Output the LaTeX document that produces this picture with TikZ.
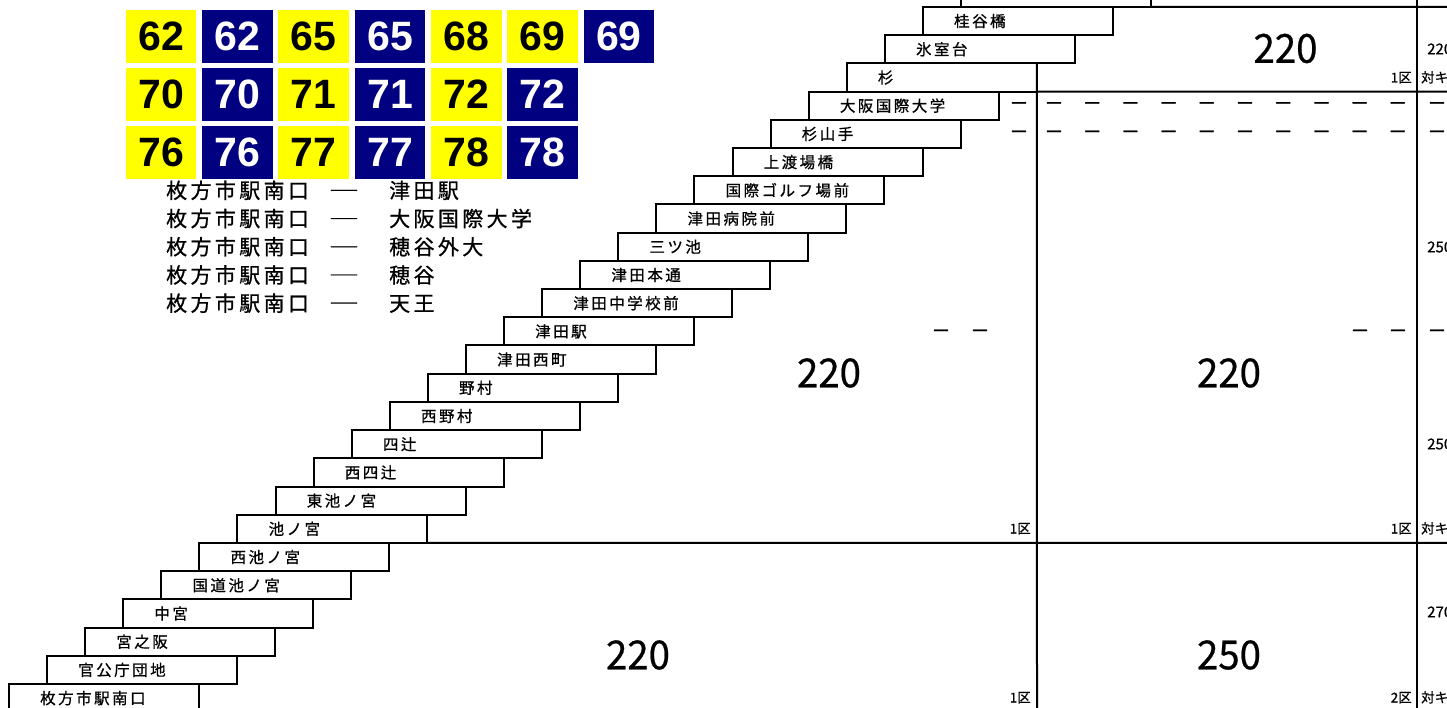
\documentclass[tikz,border=0pt]{standalone}
\usepackage{fontspec}
\usepackage{graphicx}
\setmainfont{Noto Sans CJK JP}
\newfontfamily\jp[FakeBold=0.6]{Noto Sans CJK JP}
\newfontfamily\jpls[LetterSpace=16,FakeBold=0.8]{Noto Sans CJK JP}
\newfontfamily\jpdash[FakeBold=2]{Noto Sans CJK JP}
\newfontfamily\rn{Liberation Sans}
\definecolor{rtyel}{RGB}{255,255,0}
\definecolor{rtnavy}{RGB}{0,0,128}
\begin{document}
\begin{tikzpicture}[x=1pt,y=-1pt,
  stnbox/.style={draw, line width=2pt, minimum width=190pt, minimum height=28.21pt, inner sep=0pt, outer sep=0pt, anchor=north west},
  stnlbl/.style={anchor=base west, inner sep=0pt, font=\jpls\fontsize{15.5}{15.5}\selectfont},
  rbox/.style={minimum width=70.5pt, minimum height=53pt, inner sep=0pt, outer sep=0pt, font=\rn\bfseries\fontsize{41}{41}\selectfont},
  ryel/.style={rbox, fill=rtyel, text=black},
  rnavy/.style={rbox, fill=rtnavy, text=white},
  gridln/.style={line width=2pt},
  bignum/.style={font=\jp\fontsize{40}{40}\selectfont, inner sep=0pt},
  smlbl/.style={font=\jp\fontsize{13.5}{13.5}\selectfont, inner sep=0pt},
  colnum/.style={font=\jp\fontsize{15}{15}\selectfont, inner sep=0pt, anchor=west},
  dashc/.style={font=\jpdash\fontsize{19}{19}\selectfont, inner sep=0pt, anchor=base},
  lst/.style={font=\jpls\fontsize{21}{21}\selectfont, inner sep=0pt, anchor=base west},
  lstdash/.style={font=\jp\fontsize{21}{21}\selectfont, inner sep=0pt, anchor=base}
]
\clip (0,0) rectangle (1447,708);
\fill[white] (0,0) rectangle (1447,708);

% route number boxes
\foreach \t/\s [count=\k from 0] in {62/ryel,62/rnavy,65/ryel,65/rnavy,68/ryel,69/ryel,69/rnavy}
  \node[\s] (ra\k) at ({161.2+76.27*\k},36.2) {\t};
\foreach \t/\s [count=\k from 0] in {70/ryel,70/rnavy,71/ryel,71/rnavy,72/ryel,72/rnavy}
  \node[\s] (rb\k) at ({161.2+76.27*\k},94.5) {\t};
\foreach \t/\s [count=\k from 0] in {76/ryel,76/rnavy,77/ryel,77/rnavy,78/ryel,78/rnavy}
  \node[\s] (rc\k) at ({161.2+76.27*\k},152.4) {\t};

% route list
\foreach \d [count=\k from 0] in {津田駅,大阪国際大学,穂谷外大,穂谷,天王} {
  \node[lst] (la\k) at (166,{198.3+28.21*\k}) {枚方市駅南口};
  \node[lstdash] (ld\k) at (344,{198.3+28.21*\k}) {\scalebox{1.45}[1]{―}};
  \node[lst] (lb\k) at (389,{198.3+28.21*\k}) {\d};
}

% station staircase
\foreach \n [count=\i from 0] in {枚方市駅南口,官公庁団地,宮之阪,中宮,国道池ノ宮,西池ノ宮,池ノ宮,東池ノ宮,西四辻,四辻,西野村,野村,津田西町,津田駅,津田中学校前,津田本通,三ツ池,津田病院前,国際ゴルフ場前,上渡場橋,杉山手,大阪国際大学,杉,氷室台,桂谷橋,{}} {
  \node[stnbox] (s\i) at ({9+38.08*\i},{684-28.21*\i}) {};
  \node[stnlbl] (t\i) at ({9+38.08*\i+31},{704-28.21*\i}) {\n};
}

% grid lines
\coordinate (v1b) at (1037,708);
\coordinate (h0e) at (1447,6.96);
\coordinate (h1e) at (1447,91.59);
\coordinate (h2e) at (1447,542.95);
\coordinate (v2t) at (1417,0);
\coordinate (v2b) at (1417,708);
\draw[gridln] (s22.north east) -- (v1b);
\draw[gridln] (s25.south east) -- (h0e);
\draw[gridln] (s22.south east) -- (h1e);
\draw[gridln] (s6.south east) -- (h2e);
\draw[gridln] (v2t) -- (v2b);

% fares
\node[bignum] (f1) at (1285.5,48.5) {\scalebox{0.96}[1]{220}};
\node[bignum] (f2) at (829,373) {\scalebox{0.96}[1]{220}};
\node[bignum] (f3) at (1229,373) {\scalebox{0.96}[1]{220}};
\node[bignum] (f4) at (638,655) {\scalebox{0.96}[1]{220}};
\node[bignum] (f5) at (1229,655) {\scalebox{0.96}[1]{250}};

% zone labels
\node[smlbl, anchor=base east] (z1) at (1412,82.5) {1区};
\node[smlbl, anchor=base east] (z2) at (1031,533.5) {1区};
\node[smlbl, anchor=base east] (z3) at (1412,533.5) {1区};
\node[smlbl, anchor=base east] (z4) at (1031,702.5) {1区};
\node[smlbl, anchor=base east] (z5) at (1412,702.5) {2区};
\node[smlbl, anchor=base west] (k1) at (1421,82.5) {対キ};
\node[smlbl, anchor=base west] (k2) at (1421,533.5) {対キ};
\node[smlbl, anchor=base west] (k3) at (1421,702.5) {対キ};

% right column fares
\node[colnum] (c1) at (1427,49) {220};
\node[colnum] (c2) at (1427,247) {250};
\node[colnum] (c3) at (1427,444) {250};
\node[colnum] (c4) at (1427,612) {270};

% dashes
\foreach \yy in {110,138.5} {
  \node[dashc] at (1019,\yy) {－};
  \foreach \k in {0,...,9}
    \node[dashc] at ({1054+38.2*\k},\yy) {－};
  \node[dashc] at (1437,\yy) {－};
}
\foreach \xx in {941,980,1360,1398,1437}
  \node[dashc] at (\xx,337.5) {－};
\end{tikzpicture}
\end{document}
